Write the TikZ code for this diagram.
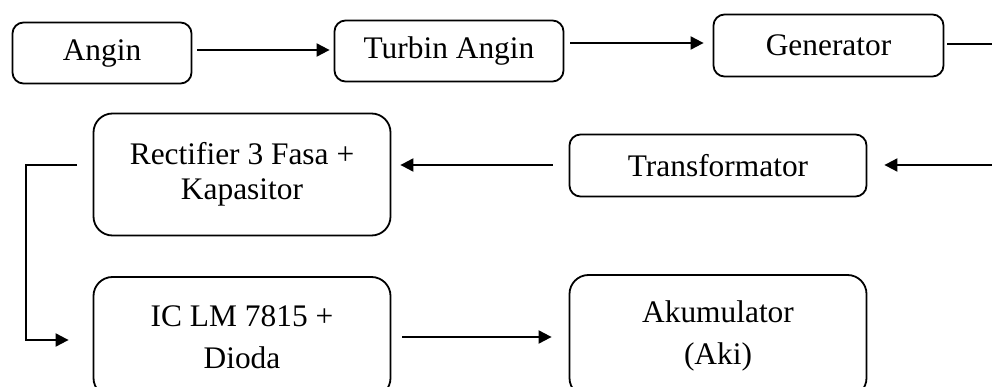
\documentclass[tikz,border=0pt]{standalone}
\usepackage{fontspec}
\setmainfont{Liberation Serif}
\usetikzlibrary{arrows.meta}
\tikzset{
  blk/.style={draw, line width=1.8pt, inner sep=0pt, align=center,
    font=\fontsize{31.4}{42}\selectfont},
  blk1/.style={blk, rounded corners=11pt},
  blk2/.style={blk, rounded corners=19pt},
  conn/.style={line width=2pt},
  arr/.style={conn, -{Triangle[length=13pt, width=13pt]}},
}
\begin{document}
\begin{tikzpicture}[x=1pt,y=-1pt]
\useasboundingbox (0,0) rectangle (992,387);
\clip (0,0) rectangle (992,387);
% row 1
\node[blk1, minimum width=179pt, minimum height=61pt] (angin) at (102,53) {Angin};
\node[blk1, minimum width=229pt, minimum height=61pt] (turbin) at (449,51) {Turbin Angin};
\node[blk1, minimum width=230pt, minimum height=62pt] (gen) at (828.5,45.5) {Generator};
% row 2
\node[blk2, minimum width=297pt, minimum height=122pt, font=\fontsize{31.4}{35}\selectfont] (rect) at (242,174.5) {Rectifier 3 Fasa +\\Kapasitor};
\node[blk1, minimum width=297pt, minimum height=62pt] (trafo) at (718,165.5) {Transformator};
% row 3
\node[blk2, minimum width=297pt, minimum height=120pt] (ic) at (242,337) {IC LM 7815 +\\Dioda};
\node[blk2, minimum width=297pt, minimum height=122pt] (aku) at (718,336) {Akumulator\\(Aki)};
% free ends
\coordinate (genout) at (992,44);
\coordinate (trafoin) at (992,165);
\coordinate (rectout) at (77,165);
\coordinate (bendA) at (26,165);
\coordinate (bendB) at (26,340);
% connectors
\draw[arr, shorten <=5pt, shorten >=4pt] ([yshift=3pt]angin.east) -- ([yshift=3pt]angin.east -| turbin.west);
\draw[arr, shorten <=6pt, shorten >=9pt] ([yshift=8pt]turbin.east) -- ([yshift=8pt]turbin.east -| gen.west);
\draw[line width=1.4pt, shorten <=3pt] (gen.east |- genout) -- (genout);
\draw[arr, shorten >=17pt] (trafoin) -- (trafo.east |- trafoin);
\draw[arr, shorten <=16pt, shorten >=9pt] (trafo.west |- trafoin) -- (rect.east |- trafoin);
\draw[arr, shorten >=24pt] (rectout) -- (bendA) -- (bendB) -- (ic.west |- bendB);
\draw[arr, shorten <=11pt, shorten >=17pt] ([yshift=-0pt]ic.east |- 0,337) -- (aku.west |- 0,337);
\end{tikzpicture}
\end{document}
